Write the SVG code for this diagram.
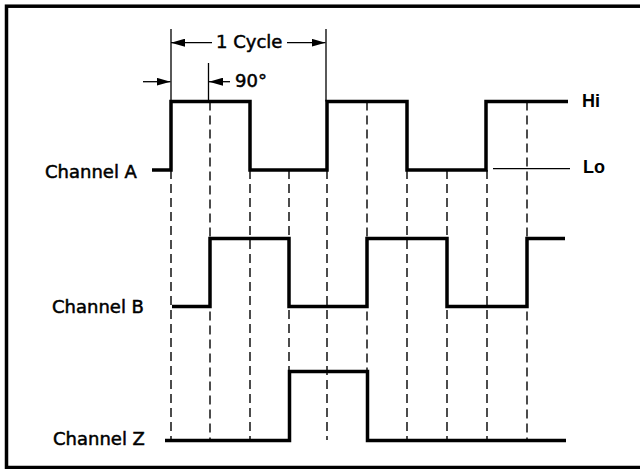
<svg xmlns="http://www.w3.org/2000/svg" width="640" height="469" viewBox="0 0 640 469">
<style>
.sig{fill:none;stroke:#000;stroke-width:3.5;stroke-linejoin:miter;stroke-linecap:butt}
.dash{fill:none;stroke:#000;stroke-width:1.4;stroke-dasharray:9 5}
.thin{fill:none;stroke:#000;stroke-width:1.3}
.lbl{font-family:"DejaVu Sans",Verdana,sans-serif;font-size:18px;fill:#000;stroke:#000;stroke-width:0.5}
.hl{font-family:"Liberation Sans",Arial,sans-serif;font-size:18px;font-weight:bold;fill:#000}
</style>
<defs>
<marker id="ah" markerUnits="userSpaceOnUse" markerWidth="14" markerHeight="8" refX="14" refY="4" orient="auto">
<path d="M0,0 L14,4 L0,8 z" fill="#000"/>
</marker>
</defs>
<rect x="0" y="0" width="640" height="469" fill="#fff"/>
<rect x="6.5" y="6.2" width="640" height="461.3" fill="none" stroke="#000" stroke-width="3.5"/>
<g id="connectors">
<path class="dash" d="M171,170 V440 M210,101.5 V440 M250,170 V440 M289,170 V440 M327,170 V440 M367,101.5 V440 M407,170 V440 M447,170 V440 M487,170 V440 M527,101.5 V440"/>
<path class="thin" d="M171,29 V101.5 M326,29 V101.5 M208.5,63 V101.5"/>
<line class="thin" x1="212" y1="42.7" x2="171" y2="42.7" marker-end="url(#ah)"/>
<line class="thin" x1="287" y1="42.7" x2="325.5" y2="42.7" marker-end="url(#ah)"/>
<line class="thin" x1="143" y1="81.7" x2="170.5" y2="81.7" marker-end="url(#ah)"/>
<line class="thin" x1="230" y1="81.7" x2="209" y2="81.7" marker-end="url(#ah)"/>
<line class="thin" x1="493" y1="168.7" x2="570" y2="168.7" stroke-width="1.5"/>
</g>
<g id="channel-a">
<path class="sig" d="M152,170 H171 V101.5 H250 V170 H327 V101.5 H407 V170 H486 V101.5 H568"/>
<text class="lbl" x="45" y="177.5">Channel A</text>
</g>
<g id="channel-b">
<path class="sig" d="M172,306.5 H210 V238.5 H289 V306.5 H367 V238.5 H447 V306.5 H527 V238.5 H565"/>
<text class="lbl" x="52" y="313">Channel B</text>
</g>
<g id="channel-z">
<path class="sig" d="M165,440.5 H289.5 V371.5 H367.5 V440.5 H566"/>
<text class="lbl" x="53" y="445">Channel Z</text>
</g>
<g id="cycle-label">
<text class="lbl" x="216" y="48.3">1 Cycle</text>
</g>
<g id="phase-label">
<text class="lbl" x="235" y="86.7">90°</text>
</g>
<g id="hi-label">
<text class="hl" x="582" y="106.7">Hi</text>
</g>
<g id="lo-label">
<text class="hl" x="583" y="173.3">Lo</text>
</g>
</svg>
